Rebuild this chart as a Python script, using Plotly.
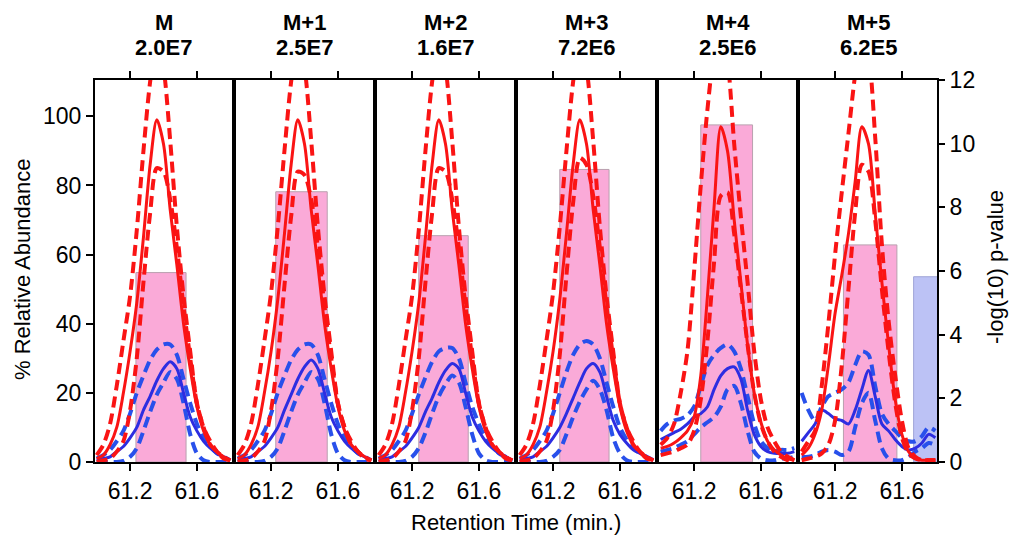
import plotly.graph_objects as go

# ---------------- data ----------------
rt = [61.00, 61.04, 61.08, 61.12, 61.16, 61.20, 61.24, 61.28, 61.32, 61.36, 61.40,
      61.44, 61.48, 61.52, 61.56, 61.60, 61.64, 61.68, 61.72, 61.76, 61.80]

isotopologues = ["M", "M+1", "M+2", "M+3", "M+4", "M+5"]
intensities = ["2.0E7", "2.5E7", "1.6E7", "7.2E6", "2.5E6", "6.2E5"]

# red: condition A (mean, upper, lower), % relative abundance
red_mean_M0 = [1, 2, 5, 10, 20, 32, 46, 65, 86, 99, 92, 73, 57, 40, 27, 16, 9, 5, 3, 1.5, 0.5]
red_upper_M0 = [2, 5, 11, 22, 35, 48, 67, 90, 110, 122, 114, 93, 68, 48, 32, 17, 10, 6, 3, 1.5, 0.5]
red_lower_M0 = [0, 0.5, 1, 3, 6, 15, 30, 52, 72, 85, 84, 76, 62, 45, 30, 17, 10, 5, 3, 1, 0.5]
blue_mean_M0 = [0.5, 1, 1.5, 3, 4.5, 7, 10, 15, 19, 23.5, 27, 29, 27, 20, 13, 9, 6, 4, 2.5, 1.5, 0.5]
blue_upper_M0 = [1, 2, 3.5, 6, 9, 14, 20, 25, 29.5, 32.5, 34, 34, 31, 24, 17, 11, 7, 4.5, 2.5, 1.5, 0.5]
blue_lower_M0 = [0, 0, 0, 0, 0.3, 1.5, 4, 9, 14.5, 19.5, 23, 26, 24, 17, 8, 2.5, 0.5, 0, 0, 0, 0]

red_mean_M1 = [1, 2, 5, 10, 20, 32, 47, 66, 86, 99, 92, 73, 57, 40, 27, 16, 9, 5, 3, 1.5, 0.5]
red_upper_M1 = [2, 5, 11, 22, 35, 49, 68, 90, 110, 122, 114, 93, 68, 48, 32, 17, 10, 6, 3, 1.5, 0.5]
red_lower_M1 = [0, 0.5, 1, 3, 6, 15, 30, 51, 71, 84, 83, 76, 62, 45, 30, 17, 10, 5, 3, 1, 0.5]
blue_mean_M1 = [0.5, 1, 1.5, 3, 4.5, 7, 10, 15, 19.5, 24, 27.5, 29.5, 27, 20, 13, 9, 6, 4, 2.5, 1.5, 0.5]
blue_upper_M1 = [1, 2, 3.5, 6, 9, 14, 20, 25, 29.5, 32.5, 34, 34, 31, 24, 17, 11, 7, 4.5, 2.5, 1.5, 0.5]
blue_lower_M1 = [0, 0, 0, 0, 0.3, 1.5, 4, 9, 14.5, 19.5, 23, 26, 24, 17, 8, 2.5, 0.5, 0, 0, 0, 0]

red_mean_M2 = [1, 2, 5, 10, 20, 32, 46, 65, 86, 99, 92, 73, 57, 40, 27, 16, 9, 5, 3, 1.5, 0.5]
red_upper_M2 = [2, 5, 11, 22, 35, 48, 67, 90, 110, 122, 114, 93, 68, 48, 32, 17, 10, 6, 3, 1.5, 0.5]
red_lower_M2 = [0, 0.5, 1, 3, 6, 15, 30, 52, 72, 85, 84, 76, 62, 45, 30, 17, 10, 5, 3, 1, 0.5]
blue_mean_M2 = [0.5, 1, 1.5, 3, 4.5, 7, 10, 14.5, 18.5, 23, 26.5, 28.5, 27, 20, 13, 9, 6, 4, 2.5, 1.5, 0.5]
blue_upper_M2 = [1, 2, 3.5, 6, 9, 14, 19.5, 24.5, 29, 32, 33, 33, 30, 23, 16, 11, 7, 4.5, 2.5, 1.5, 0.5]
blue_lower_M2 = [0, 0, 0, 0, 0.3, 1.5, 4, 8.5, 14, 19, 22.5, 25, 23, 16, 8, 2.5, 0.5, 0, 0, 0, 0]

red_mean_M3 = [1, 2, 5, 10, 20, 32, 47, 66, 86, 99, 92, 73, 57, 40, 27, 16, 9, 5, 3, 1.5, 0.5]
red_upper_M3 = [2, 5, 11, 22, 35, 49, 68, 90, 110, 122, 114, 93, 68, 48, 32, 17, 10, 6, 3, 1.5, 0.5]
red_lower_M3 = [0, 0.5, 1, 3, 6, 15, 31, 54, 75, 88, 86, 77, 62, 45, 30, 17, 10, 5, 3, 1, 0.5]
blue_mean_M3 = [0.5, 1, 1.5, 3, 4.5, 7, 10, 14, 18.5, 23, 27, 28.5, 26, 19, 12, 8, 5.5, 3.5, 2.5, 1.5, 0.5]
blue_upper_M3 = [1, 2, 3.5, 6, 9, 14, 20, 26, 31, 34, 35, 34, 30, 23, 16, 10, 6.5, 4, 2.5, 1.5, 0.5]
blue_lower_M3 = [0, 0, 0, 0, 0.3, 1.5, 3.5, 8, 13, 17.5, 21, 23.5, 21, 15, 7, 2.5, 0.5, 0, 0, 0, 0]

red_mean_M4 = [4, 4.5, 5.5, 7, 9, 13, 25, 48, 74, 97, 90, 70, 52, 34, 20, 11.5, 6, 3.5, 2, 1, 0.5]
red_upper_M4 = [5, 7, 11, 20, 32, 55, 80, 102, 118, 124, 116, 92, 71, 52, 32, 18, 10, 6, 3, 1.5, 0.5]
red_lower_M4 = [2, 2.5, 3, 4, 5, 9, 18, 35, 58, 77, 78, 66, 50, 34, 20, 11, 6, 3, 1.5, 0.5, 0]
blue_mean_M4 = [6.5, 7.5, 8.5, 9.5, 11, 13, 14, 16, 21, 25, 27, 27.5, 24, 15, 8, 4.5, 3, 2.5, 2.5, 2.5, 3]
blue_upper_M4 = [9, 11, 12, 12.5, 13.5, 16, 22, 28, 31, 33, 34, 32, 27, 19, 11, 6, 4, 3, 3.5, 3.5, 4]
blue_lower_M4 = [3, 3.5, 4, 5, 6, 8, 10, 11.5, 13, 16, 21, 22, 17, 9, 3, 1, 0.5, 0.5, 1, 1, 1.5]

red_mean_M5 = [2, 4, 8, 15, 28, 43, 54, 66, 81, 97, 92, 72, 52, 34, 18, 8, 3, 1, 0.5, 0.5, 0.5]
red_upper_M5 = [3, 6, 9, 22, 40, 60, 78, 95, 112, 124, 118, 94, 63, 41, 25, 12, 4, 1.5, 0.5, 0.5, 0.5]
red_lower_M5 = [0.5, 1, 1.5, 2.5, 5, 12, 28, 50, 72, 86, 84, 70, 50, 32, 17, 7, 2.5, 1, 0.5, 0.5, 0.5]
blue_mean_M5 = [6, 8.5, 11, 15, 14, 12.5, 12, 11, 15, 21, 26.5, 19, 11, 9, 6.5, 4.5, 3.5, 4, 5.5, 8, 7]
blue_upper_M5 = [20, 15, 12, 16, 19, 20, 21, 23, 28, 32, 31, 22, 14, 11, 9, 7, 6, 6, 7.5, 10, 9]
blue_lower_M5 = [1.5, 1.5, 2, 3, 3.5, 3, 2, 3, 10, 17, 20, 12, 4, 1, 0.5, 0.5, 1.5, 3, 4, 5.5, 5]

# -log10 p-value windows (bars)
bar_start = [61.235, 61.228, 61.240, 61.240, 61.240, 61.250]
bar_end = [61.535, 61.536, 61.536, 61.535, 61.550, 61.570]
bar_pval = [5.95, 8.49, 7.11, 9.19, 10.59, 6.82]
blue_bar_start = [61.670]
blue_bar_end = [61.830]
blue_bar_pval = [5.82]

red_mean = [red_mean_M0, red_mean_M1, red_mean_M2, red_mean_M3, red_mean_M4, red_mean_M5]
red_upper = [red_upper_M0, red_upper_M1, red_upper_M2, red_upper_M3, red_upper_M4, red_upper_M5]
red_lower = [red_lower_M0, red_lower_M1, red_lower_M2, red_lower_M3, red_lower_M4, red_lower_M5]
blue_mean = [blue_mean_M0, blue_mean_M1, blue_mean_M2, blue_mean_M3, blue_mean_M4, blue_mean_M5]
blue_upper = [blue_upper_M0, blue_upper_M1, blue_upper_M2, blue_upper_M3, blue_upper_M4, blue_upper_M5]
blue_lower = [blue_lower_M0, blue_lower_M1, blue_lower_M2, blue_lower_M3, blue_lower_M4, blue_lower_M5]

# ---------------- styling ----------------
FONT = "Liberation Sans, Arial, sans-serif"
RED = "rgb(250,20,20)"
BLUE = "rgb(45,45,225)"
BLUE_D = "rgb(40,80,235)"
PINK = "rgb(250,170,216)"
LAV = "rgb(188,194,245)"

W, H = 1017, 535
ML, MR, MT, MB = 95, 80, 80, 73
PW = W - ML - MR
PH = H - MT - MB
panel_w, gap = 137, 4

fig = go.Figure()
layout = dict(
    width=W, height=H, margin=dict(l=ML, r=MR, t=MT, b=MB),
    paper_bgcolor="white", plot_bgcolor="white", showlegend=False,
    barmode="overlay", font=dict(family=FONT, size=22, color="black"),
)

annotations = []
for i in range(6):
    xa = f"x{i+1}" if i else "x"
    yp = f"y{2*i+1}" if i else "y"          # p-value axis (bars), underneath
    yv = f"y{2*i+2}"                          # % abundance axis (lines), on top
    x0 = i * (panel_w + gap)
    dom = [x0 / PW, (x0 + panel_w) / PW]

    # bars
    s, e = bar_start[i], bar_end[i]
    fig.add_trace(go.Bar(x=[(s + e) / 2], y=[bar_pval[i]], width=[e - s],
                         marker=dict(color=PINK, line=dict(color="rgb(185,160,175)", width=1)),
                         xaxis=xa, yaxis=yp, hoverinfo="skip"))
    if i == 5:
        for bs, be, bp in zip(blue_bar_start, blue_bar_end, blue_bar_pval):
            fig.add_trace(go.Bar(x=[(bs + be) / 2], y=[bp], width=[be - bs],
                                 marker=dict(color=LAV, line=dict(color="rgb(160,165,215)", width=1)),
                                 xaxis=xa, yaxis=yp, hoverinfo="skip"))

    # lines
    def add_line(vals, color, width, dash):
        fig.add_trace(go.Scatter(x=rt, y=vals, mode="lines",
                                 line=dict(color=color, width=width, dash=dash, shape="spline", smoothing=0.8),
                                 xaxis=xa, yaxis=yv, hoverinfo="skip"))

    add_line(blue_upper[i], BLUE_D, 4, "11px,6px")
    add_line(blue_lower[i], BLUE_D, 4, "11px,6px")
    add_line(blue_mean[i], BLUE, 3, "solid")
    add_line(red_upper[i], RED, 4, "11px,6px")
    add_line(red_lower[i], RED, 4, "11px,6px")
    add_line(red_mean[i], RED, 3, "solid")

    xkey = "xaxis" if i == 0 else f"xaxis{i+1}"
    layout[xkey] = dict(
        domain=dom, range=[60.99, 61.81], anchor=yp,
        tickvals=[61.2, 61.6], ticktext=["61.2", "61.6"],
        ticks="outside", ticklen=7, tickwidth=1.5, tickcolor="black",
        showline=True, linecolor="black", linewidth=2, mirror="ticks",
        showgrid=False, zeroline=False, tickfont=dict(size=23),
    )
    ypkey = "yaxis" if i == 0 else f"yaxis{2*i+1}"
    layout[ypkey] = dict(
        domain=[0, 1], range=[0, 12], anchor=xa, side="right",
        showgrid=False, zeroline=False, showline=False,
        tickvals=[0, 2, 4, 6, 8, 10, 12] if i == 5 else [],
        ticks="outside" if i == 5 else "", ticklen=7, tickwidth=1.5, tickcolor="black",
        showticklabels=(i == 5), tickfont=dict(size=23),
    )
    layout[f"yaxis{2*i+2}"] = dict(
        overlaying=yp, anchor=xa, side="left", range=[0, 110.5],
        showgrid=False, zeroline=False,
        showline=True, linecolor="black", linewidth=2, mirror=True,
        tickvals=[0, 20, 40, 60, 80, 100] if i == 0 else [],
        ticks="outside" if i == 0 else "", ticklen=7, tickwidth=1.5, tickcolor="black",
        showticklabels=(i == 0), tickfont=dict(size=23),
    )

    cx = (dom[0] + dom[1]) / 2
    annotations.append(dict(x=cx, y=(H - MB - 23) / PH, xref="paper", yref="paper",
                            text=f"<b>{isotopologues[i]}</b>", showarrow=False,
                            font=dict(size=22), xanchor="center", yanchor="middle"))
    annotations.append(dict(x=cx, y=(H - MB - 48) / PH, xref="paper", yref="paper",
                            text=f"<b>{intensities[i]}</b>", showarrow=False,
                            font=dict(size=22), xanchor="center", yanchor="middle"))

annotations.append(dict(x=(22 - ML) / PW, y=(H - MB - 270) / PH, xref="paper", yref="paper",
                        text="% Relative Abundance", textangle=-90, showarrow=False,
                        font=dict(size=22), xanchor="center", yanchor="middle"))
annotations.append(dict(x=(995 - ML) / PW, y=(H - MB - 267) / PH, xref="paper", yref="paper",
                        text="-log(10) p-value", textangle=-90, showarrow=False,
                        font=dict(size=22), xanchor="center", yanchor="middle"))
annotations.append(dict(x=(516 - ML) / PW, y=(H - MB - 522) / PH, xref="paper", yref="paper",
                        text="Retention Time (min.)", showarrow=False,
                        font=dict(size=22), xanchor="center", yanchor="middle"))
layout["annotations"] = annotations

fig.update_layout(**layout)
fig.write_html("out.html")
